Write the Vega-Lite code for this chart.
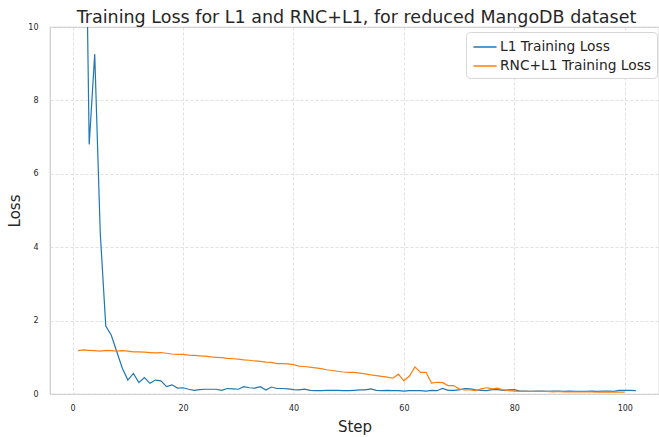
{
  "$schema": "https://vega.github.io/schema/vega-lite/v6.json",
  "autosize": {"type": "none"},
  "padding": {"left": 50, "top": 27, "right": 0, "bottom": 43},
  "width": 609,
  "height": 367,
  "background": "white",
  "title": {"text": "Training Loss for L1 and RNC+L1, for reduced MangoDB dataset", "font": "DejaVu Sans", "fontSize": 17.5, "fontWeight": "normal", "color": "#262626", "anchor": "middle", "offset": -3, "dx": 2},
  "config": {
    "font": "DejaVu Sans",
    "view": {"stroke": "#cccccc", "strokeWidth": 1.25},
    "axis": {"domain": false, "ticks": false, "grid": true, "gridColor": "#d9d9d9", "gridDash": [3, 2], "gridWidth": 0.8, "labelFontSize": 8, "labelColor": "#262626", "titleFontSize": 15, "titleFontWeight": "normal", "titleColor": "#262626"}
  },
  "data": {"values": [
    {"step": 1, "L1": 30, "RNC": 1.18}, {"step": 2, "L1": 17.5, "RNC": 1.2}, {"step": 3, "L1": 6.8, "RNC": 1.19}, {"step": 4, "L1": 9.26, "RNC": 1.18}, {"step": 5, "L1": 4.4, "RNC": 1.17},
    {"step": 6, "L1": 1.85, "RNC": 1.19}, {"step": 7, "L1": 1.6, "RNC": 1.18}, {"step": 8, "L1": 1.15, "RNC": 1.17}, {"step": 9, "L1": 0.7, "RNC": 1.18}, {"step": 10, "L1": 0.38, "RNC": 1.17},
    {"step": 11, "L1": 0.56, "RNC": 1.15}, {"step": 12, "L1": 0.31, "RNC": 1.15}, {"step": 13, "L1": 0.45, "RNC": 1.14}, {"step": 14, "L1": 0.29, "RNC": 1.13}, {"step": 15, "L1": 0.38, "RNC": 1.12},
    {"step": 16, "L1": 0.36, "RNC": 1.13}, {"step": 17, "L1": 0.2, "RNC": 1.11}, {"step": 18, "L1": 0.25, "RNC": 1.09}, {"step": 19, "L1": 0.16, "RNC": 1.08}, {"step": 20, "L1": 0.17, "RNC": 1.08},
    {"step": 21, "L1": 0.13, "RNC": 1.06}, {"step": 22, "L1": 0.1, "RNC": 1.05}, {"step": 23, "L1": 0.12, "RNC": 1.04}, {"step": 24, "L1": 0.13, "RNC": 1.03}, {"step": 25, "L1": 0.13, "RNC": 1.01},
    {"step": 26, "L1": 0.13, "RNC": 1.0}, {"step": 27, "L1": 0.1, "RNC": 0.99}, {"step": 28, "L1": 0.15, "RNC": 0.97}, {"step": 29, "L1": 0.14, "RNC": 0.96}, {"step": 30, "L1": 0.13, "RNC": 0.95},
    {"step": 31, "L1": 0.2, "RNC": 0.93}, {"step": 32, "L1": 0.17, "RNC": 0.92}, {"step": 33, "L1": 0.16, "RNC": 0.9}, {"step": 34, "L1": 0.2, "RNC": 0.89}, {"step": 35, "L1": 0.11, "RNC": 0.87},
    {"step": 36, "L1": 0.19, "RNC": 0.86}, {"step": 37, "L1": 0.15, "RNC": 0.83}, {"step": 38, "L1": 0.15, "RNC": 0.83}, {"step": 39, "L1": 0.14, "RNC": 0.82}, {"step": 40, "L1": 0.12, "RNC": 0.8},
    {"step": 41, "L1": 0.11, "RNC": 0.76}, {"step": 42, "L1": 0.13, "RNC": 0.75}, {"step": 43, "L1": 0.1, "RNC": 0.73}, {"step": 44, "L1": 0.09, "RNC": 0.71}, {"step": 45, "L1": 0.09, "RNC": 0.69},
    {"step": 46, "L1": 0.1, "RNC": 0.66}, {"step": 47, "L1": 0.1, "RNC": 0.64}, {"step": 48, "L1": 0.1, "RNC": 0.62}, {"step": 49, "L1": 0.09, "RNC": 0.6}, {"step": 50, "L1": 0.09, "RNC": 0.59},
    {"step": 51, "L1": 0.1, "RNC": 0.59}, {"step": 52, "L1": 0.11, "RNC": 0.57}, {"step": 53, "L1": 0.11, "RNC": 0.55}, {"step": 54, "L1": 0.14, "RNC": 0.52}, {"step": 55, "L1": 0.1, "RNC": 0.5},
    {"step": 56, "L1": 0.09, "RNC": 0.48}, {"step": 57, "L1": 0.1, "RNC": 0.46}, {"step": 58, "L1": 0.09, "RNC": 0.43}, {"step": 59, "L1": 0.09, "RNC": 0.54}, {"step": 60, "L1": 0.08, "RNC": 0.36},
    {"step": 61, "L1": 0.09, "RNC": 0.49}, {"step": 62, "L1": 0.09, "RNC": 0.74}, {"step": 63, "L1": 0.09, "RNC": 0.59}, {"step": 64, "L1": 0.08, "RNC": 0.59}, {"step": 65, "L1": 0.1, "RNC": 0.3},
    {"step": 66, "L1": 0.09, "RNC": 0.32}, {"step": 67, "L1": 0.15, "RNC": 0.31}, {"step": 68, "L1": 0.1, "RNC": 0.23}, {"step": 69, "L1": 0.1, "RNC": 0.23}, {"step": 70, "L1": 0.11, "RNC": 0.14},
    {"step": 71, "L1": 0.15, "RNC": 0.11}, {"step": 72, "L1": 0.14, "RNC": 0.11}, {"step": 73, "L1": 0.11, "RNC": 0.09}, {"step": 74, "L1": 0.1, "RNC": 0.14}, {"step": 75, "L1": 0.09, "RNC": 0.17},
    {"step": 76, "L1": 0.12, "RNC": 0.14}, {"step": 77, "L1": 0.12, "RNC": 0.16}, {"step": 78, "L1": 0.1, "RNC": 0.11}, {"step": 79, "L1": 0.11, "RNC": 0.09}, {"step": 80, "L1": 0.12, "RNC": 0.08},
    {"step": 81, "L1": 0.08, "RNC": 0.07}, {"step": 82, "L1": 0.08, "RNC": 0.07}, {"step": 83, "L1": 0.07, "RNC": 0.07}, {"step": 84, "L1": 0.08, "RNC": 0.07}, {"step": 85, "L1": 0.08, "RNC": 0.07},
    {"step": 86, "L1": 0.07, "RNC": 0.07}, {"step": 87, "L1": 0.08, "RNC": 0.06}, {"step": 88, "L1": 0.08, "RNC": 0.07}, {"step": 89, "L1": 0.07, "RNC": 0.06}, {"step": 90, "L1": 0.08, "RNC": 0.06},
    {"step": 91, "L1": 0.07, "RNC": 0.06}, {"step": 92, "L1": 0.07, "RNC": 0.06}, {"step": 93, "L1": 0.07, "RNC": 0.06}, {"step": 94, "L1": 0.08, "RNC": 0.06}, {"step": 95, "L1": 0.07, "RNC": 0.05},
    {"step": 96, "L1": 0.08, "RNC": 0.06}, {"step": 97, "L1": 0.08, "RNC": 0.05}, {"step": 98, "L1": 0.07, "RNC": 0.05}, {"step": 99, "L1": 0.1, "RNC": 0.05}, {"step": 100, "L1": 0.1, "RNC": 0.05},
    {"step": 101, "L1": 0.1}, {"step": 102, "L1": 0.09}
  ]},
  "transform": [
    {"fold": ["L1", "RNC"], "as": ["key", "loss"]},
    {"filter": "isValid(datum.loss)"},
    {"lookup": "key", "from": {"data": {"values": [{"key": "L1", "series": "L1 Training Loss"}, {"key": "RNC", "series": "RNC+L1 Training Loss"}]}, "key": "key", "fields": ["series"]}}
  ],
  "mark": {"type": "line", "clip": true, "strokeWidth": 1.2},
  "encoding": {
    "x": {"field": "step", "type": "quantitative", "title": "Step", "scale": {"domain": [-4.1, 106.2], "nice": false, "zero": false}, "axis": {"values": [0, 20, 40, 60, 80, 100], "labelPadding": 10, "titlePadding": 7}},
    "y": {"field": "loss", "type": "quantitative", "title": "Loss", "scale": {"domain": [0, 10], "nice": false}, "axis": {"values": [0, 2, 4, 6, 8, 10], "labelPadding": 12, "titlePadding": 5}},
    "color": {"field": "series", "type": "nominal", "scale": {"domain": ["L1 Training Loss", "RNC+L1 Training Loss"], "range": ["#1f77b4", "#ff7f0e"]},
      "legend": {"title": null, "orient": "none", "legendX": 416, "legendY": 5, "symbolType": "M-1.25,0H1.25", "symbolSize": 342, "symbolStrokeWidth": 1.5, "symbolOffset": 4, "labelFontSize": 13.8, "labelColor": "#262626", "fillColor": "white", "strokeColor": "#d6d6d6", "cornerRadius": 4, "padding": 5, "rowPadding": 2, "labelOffset": 5}}
  }
}
